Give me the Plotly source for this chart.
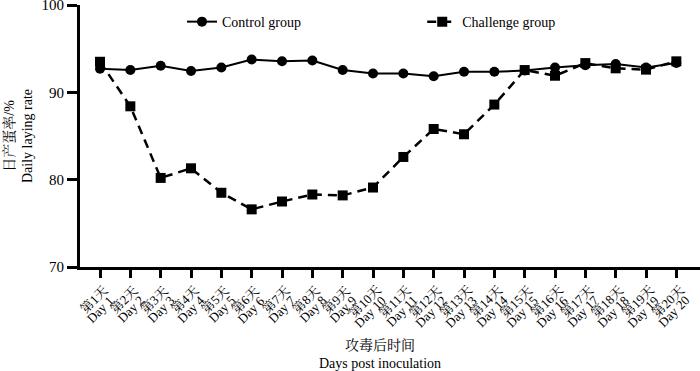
import plotly.graph_objects as go

days = list(range(1, 21))
control = [92.7, 92.55, 93.05, 92.45, 92.85, 93.75, 93.55, 93.65, 92.55, 92.15,
           92.15, 91.85, 92.35, 92.35, 92.5, 92.85, 93.1, 93.25, 92.85, 93.35]
challenge = [93.5, 88.4, 80.2, 81.3, 78.5, 76.6, 77.5, 78.3, 78.2, 79.1,
             82.6, 85.8, 85.2, 88.6, 92.55, 91.9, 93.35, 92.75, 92.6, 93.55]
tick_labels_cn = [f"第{d}天" for d in days]
tick_labels_en = [f"Day {d}" for d in days]
y_ticks = [70, 80, 90, 100]

FONT = "Liberation Serif, Times New Roman, Noto Serif CJK SC, Noto Sans CJK SC, serif"

fig = go.Figure()
fig.add_trace(go.Scatter(
    x=days, y=control, name="Control group", mode="lines+markers",
    line=dict(color="black", width=2),
    marker=dict(symbol="circle", size=10, color="black"),
    legend="legend",
))
fig.add_trace(go.Scatter(
    x=days, y=challenge, name="Challenge group", mode="lines+markers",
    line=dict(color="black", width=2.5, dash="9px,6px"),
    marker=dict(symbol="square", size=10, color="black"),
    legend="legend2",
))

annotations = []
for d, cn, en in zip(days, tick_labels_cn, tick_labels_en):
    annotations.append(dict(
        x=d, y=0, xref="x", yref="paper", text=cn, showarrow=False,
        xanchor="right", yanchor="top", textangle=-45,
        xshift=14, yshift=-13, font=dict(family=FONT, size=13, color="black"),
    ))
    annotations.append(dict(
        x=d, y=0, xref="x", yref="paper", text=en, showarrow=False,
        xanchor="right", yanchor="top", textangle=-45,
        xshift=19, yshift=-23, font=dict(family=FONT, size=13, color="black"),
    ))
annotations.append(dict(
    x=0.484, y=0, xref="paper", yref="paper", text="攻毒后时间<br>Days post inoculation",
    showarrow=False, xanchor="center", yanchor="middle", yshift=-87,
    font=dict(family=FONT, size=14, color="black"),
))
annotations.append(dict(
    x=0, y=0.5, xref="paper", yref="paper", text="日产蛋率/%<br>Daily laying rate",
    showarrow=False, xanchor="center", yanchor="middle", xshift=-62, textangle=-90,
    font=dict(family=FONT, size=14, color="black"),
))

leg_common = dict(orientation="h", yanchor="middle", xanchor="left", y=0.935,
                  font=dict(family=FONT, size=14, color="black"),
                  bgcolor="rgba(0,0,0,0)")

fig.update_layout(
    width=700, height=371,
    margin=dict(l=80, r=0, t=5, b=104, autoexpand=False),
    paper_bgcolor="white", plot_bgcolor="white",
    font=dict(family=FONT, color="black", size=13),
    showlegend=True,
    legend=dict(x=0.1645, **leg_common),
    legend2=dict(x=0.552, **leg_common),
    annotations=annotations,
    xaxis=dict(
        range=[0.34, 20.78], tickmode="array", tickvals=days, ticktext=[""] * len(days),
        ticks="outside", ticklen=8, tickwidth=3, tickcolor="black",
        showline=True, linecolor="black", linewidth=3, showgrid=False, zeroline=False,
        automargin=False,
    ),
    yaxis=dict(
        range=[70, 100], tickmode="array", tickvals=y_ticks,
        ticks="outside", ticklen=10, tickwidth=3, tickcolor="black",
        showline=True, linecolor="black", linewidth=3, showgrid=False, zeroline=False,
        tickfont=dict(family=FONT, size=15), automargin=False,
        ticklabeloverflow="allow",
    ),
)

fig.write_html("out.html", config={"displayModeBar": False},
               post_script="document.body.style.margin='0';")
